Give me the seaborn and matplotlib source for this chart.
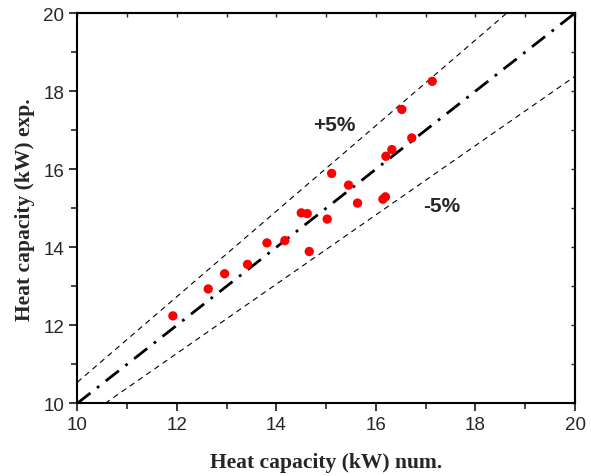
import numpy as np
import pandas as pd
import matplotlib
matplotlib.use("Agg")
import matplotlib.pyplot as plt
import seaborn as sns

sns.set_style("ticks")

# data
x_num = [17.13, 16.52, 16.72, 16.32, 16.20, 15.11, 15.45, 15.63, 16.19, 16.14,
         14.50, 14.62, 15.02, 14.17, 14.66, 13.81, 13.42, 12.96, 12.63, 11.92]
y_exp = [18.25, 17.53, 16.80, 16.50, 16.33, 15.89, 15.59, 15.13, 15.29, 15.23,
         14.88, 14.86, 14.72, 14.17, 13.89, 14.11, 13.56, 13.32, 12.93, 12.24]

ideal_x = [10, 20]
ideal_y = [10, 20]
upper_x = [10, 18.63]
upper_y = [10.54, 20]
lower_x = [10.56, 20]
lower_y = [10, 18.38]

ticks = [10, 12, 14, 16, 18, 20]

fig = plt.figure(figsize=(5.91, 4.77), dpi=100)
ax = fig.add_axes([0.1308, 0.1524, 0.973 - 0.1308, 0.9706 - 0.1524])

df = pd.DataFrame({"x": x_num, "y": y_exp})

ax.plot(upper_x, upper_y, color="black", lw=0.8, ls=(0, (5, 4)))
ax.plot(lower_x, lower_y, color="black", lw=0.8, ls=(0, (5, 4)))
ax.plot(ideal_x, ideal_y, color="black", lw=2.0, ls=(0, (6, 3, 1, 3)))
sns.scatterplot(data=df, x="x", y="y", ax=ax, color="#ff0000", s=45,
                edgecolor="none", zorder=5)

ax.set_xlim(10, 20)
ax.set_ylim(10, 20)
ax.set_xticks(ticks)
ax.set_yticks(ticks)
ax.set_xticks(np.arange(11, 20, 2), minor=True)
ax.set_yticks(np.arange(11, 20, 2), minor=True)
ax.tick_params(which="major", direction="out", length=6, width=1.3,
               labelsize=13.5)
ax.tick_params(which="minor", direction="out", length=4, width=1.2)
for lab in ax.get_xticklabels() + ax.get_yticklabels():
    lab.set_fontfamily("Liberation Sans")

# inward ticks on top/right
secx = ax.secondary_xaxis("top")
secx.set_xticks(np.arange(10, 21, 1))
secx.tick_params(direction="in", length=3, width=1.0, labeltop=False)
secx.set_xticklabels([])
secy = ax.secondary_yaxis("right")
secy.set_yticks(np.arange(10, 21, 1))
secy.tick_params(direction="in", length=3, width=1.0, labelright=False)
secy.set_yticklabels([])

for sp in ax.spines.values():
    sp.set_linewidth(1.5)
    sp.set_visible(True)
    sp.set_color("black")
for s in (secx, secy):
    for sp in s.spines.values():
        sp.set_linewidth(1.5)

ax.set_xlabel("Heat capacity (kW) num.", fontfamily="Liberation Serif",
              fontweight="bold", fontsize=15.5, labelpad=13)
ax.set_ylabel("Heat capacity (kW) exp.", fontfamily="Liberation Serif",
              fontweight="bold", fontsize=15.5, labelpad=6)

ax.text(15.16, 17.15, "+5%", fontfamily="Liberation Sans", fontweight="bold",
        fontsize=15, ha="center", va="center")
ax.text(17.32, 15.07, "-5%", fontfamily="Liberation Sans", fontweight="bold",
        fontsize=15, ha="center", va="center")

fig.savefig("out.png", dpi=100)
